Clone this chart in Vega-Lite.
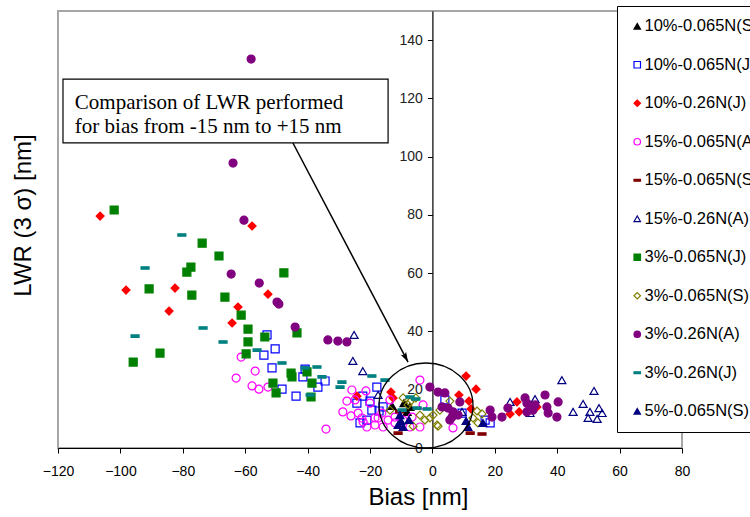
{
  "$schema": "https://vega.github.io/schema/vega-lite/v6.json",
  "width": 624,
  "height": 437,
  "autosize": {"type": "none"},
  "padding": {"left": 58, "top": 11, "right": 68, "bottom": 69},
  "background": "white",
  "config": {
    "view": {"stroke": "#a6a6a6", "strokeWidth": 2},
    "font": "Liberation Sans"
  },
  "layer": [
    {
      "data": {
        "values": [
          {"series": "10%-0.065N(S)", "bias": -12.9, "lwr": 14.4},
          {"series": "10%-0.065N(S)", "bias": -9.1, "lwr": 15.4},
          {"series": "10%-0.065N(S)", "bias": -8.1, "lwr": 12.4},
          {"series": "10%-0.065N(S)", "bias": -7.2, "lwr": 14.1},

          {"series": "10%-0.065N(J)", "bias": -53.0, "lwr": 38.8},
          {"series": "10%-0.065N(J)", "bias": -50.4, "lwr": 34.0},
          {"series": "10%-0.065N(J)", "bias": -54.0, "lwr": 31.9},
          {"series": "10%-0.065N(J)", "bias": -51.4, "lwr": 27.5},
          {"series": "10%-0.065N(J)", "bias": -48.2, "lwr": 20.2},
          {"series": "10%-0.065N(J)", "bias": -43.7, "lwr": 17.8},
          {"series": "10%-0.065N(J)", "bias": -40.8, "lwr": 27.1},
          {"series": "10%-0.065N(J)", "bias": -41.5, "lwr": 24.4},
          {"series": "10%-0.065N(J)", "bias": -36.7, "lwr": 20.9},
          {"series": "10%-0.065N(J)", "bias": -34.4, "lwr": 23.0},
          {"series": "10%-0.065N(J)", "bias": -17.8, "lwr": 20.9},
          {"series": "10%-0.065N(J)", "bias": -22.3, "lwr": 17.8},
          {"series": "10%-0.065N(J)", "bias": -20.0, "lwr": 16.1},
          {"series": "10%-0.065N(J)", "bias": -24.2, "lwr": 15.4},
          {"series": "10%-0.065N(J)", "bias": -19.4, "lwr": 13.0},
          {"series": "10%-0.065N(J)", "bias": -23.2, "lwr": 8.6},
          {"series": "10%-0.065N(J)", "bias": -17.1, "lwr": 12.7},
          {"series": "10%-0.065N(J)", "bias": -15.8, "lwr": 14.1},
          {"series": "10%-0.065N(J)", "bias": -21.0, "lwr": 9.6},
          {"series": "10%-0.065N(J)", "bias": 4.0, "lwr": 16.5},
          {"series": "10%-0.065N(J)", "bias": 9.5, "lwr": 12.0},
          {"series": "10%-0.065N(J)", "bias": 18.5, "lwr": 8.6},
          {"series": "10%-0.065N(J)", "bias": 16.9, "lwr": 9.6},

          {"series": "10%-0.26N(J)", "bias": -106.5, "lwr": 79.6},
          {"series": "10%-0.26N(J)", "bias": -98.2, "lwr": 54.2},
          {"series": "10%-0.26N(J)", "bias": -82.5, "lwr": 54.9},
          {"series": "10%-0.26N(J)", "bias": -84.4, "lwr": 47.0},
          {"series": "10%-0.26N(J)", "bias": -57.8, "lwr": 76.2},
          {"series": "10%-0.26N(J)", "bias": -52.7, "lwr": 52.8},
          {"series": "10%-0.26N(J)", "bias": -62.3, "lwr": 48.4},
          {"series": "10%-0.26N(J)", "bias": -64.2, "lwr": 42.9},
          {"series": "10%-0.26N(J)", "bias": -24.2, "lwr": 17.8},
          {"series": "10%-0.26N(J)", "bias": -13.3, "lwr": 19.2},
          {"series": "10%-0.26N(J)", "bias": -12.6, "lwr": 17.2},
          {"series": "10%-0.26N(J)", "bias": 10.8, "lwr": 24.7},
          {"series": "10%-0.26N(J)", "bias": 14.0, "lwr": 20.2},
          {"series": "10%-0.26N(J)", "bias": 8.5, "lwr": 18.2},
          {"series": "10%-0.26N(J)", "bias": 11.7, "lwr": 16.1},
          {"series": "10%-0.26N(J)", "bias": 12.4, "lwr": 13.4},
          {"series": "10%-0.26N(J)", "bias": 27.1, "lwr": 15.8},
          {"series": "10%-0.26N(J)", "bias": 27.8, "lwr": 12.4},
          {"series": "10%-0.26N(J)", "bias": 24.9, "lwr": 11.7},
          {"series": "10%-0.26N(J)", "bias": 33.5, "lwr": 14.1},

          {"series": "15%-0.065N(A)", "bias": -61.3, "lwr": 31.2},
          {"series": "15%-0.065N(A)", "bias": -56.8, "lwr": 26.4},
          {"series": "15%-0.065N(A)", "bias": -62.9, "lwr": 24.0},
          {"series": "15%-0.065N(A)", "bias": -57.8, "lwr": 21.3},
          {"series": "15%-0.065N(A)", "bias": -55.6, "lwr": 20.2},
          {"series": "15%-0.065N(A)", "bias": -52.7, "lwr": 20.9},
          {"series": "15%-0.065N(A)", "bias": -34.1, "lwr": 6.5},
          {"series": "15%-0.065N(A)", "bias": -25.8, "lwr": 19.9},
          {"series": "15%-0.065N(A)", "bias": -21.3, "lwr": 19.6},
          {"series": "15%-0.065N(A)", "bias": -27.4, "lwr": 16.1},
          {"series": "15%-0.065N(A)", "bias": -24.8, "lwr": 16.5},
          {"series": "15%-0.065N(A)", "bias": -20.0, "lwr": 15.4},
          {"series": "15%-0.065N(A)", "bias": -28.7, "lwr": 12.4},
          {"series": "15%-0.065N(A)", "bias": -26.1, "lwr": 11.0},
          {"series": "15%-0.065N(A)", "bias": -23.8, "lwr": 12.0},
          {"series": "15%-0.065N(A)", "bias": -22.2, "lwr": 8.9},
          {"series": "15%-0.065N(A)", "bias": -21.0, "lwr": 7.2},
          {"series": "15%-0.065N(A)", "bias": -18.4, "lwr": 7.9},
          {"series": "15%-0.065N(A)", "bias": -18.4, "lwr": 10.3},
          {"series": "15%-0.065N(A)", "bias": -15.8, "lwr": 7.2},
          {"series": "15%-0.065N(A)", "bias": -14.2, "lwr": 9.6},
          {"series": "15%-0.065N(A)", "bias": -13.6, "lwr": 16.5},
          {"series": "15%-0.065N(A)", "bias": -12.0, "lwr": 10.6},
          {"series": "15%-0.065N(A)", "bias": -12.0, "lwr": 8.6},
          {"series": "15%-0.065N(A)", "bias": -7.2, "lwr": 7.2},
          {"series": "15%-0.065N(A)", "bias": -6.5, "lwr": 10.6},
          {"series": "15%-0.065N(A)", "bias": -4.0, "lwr": 23.3},
          {"series": "15%-0.065N(A)", "bias": -3.0, "lwr": 14.8},
          {"series": "15%-0.065N(A)", "bias": 6.6, "lwr": 6.9},
          {"series": "15%-0.065N(A)", "bias": -22.6, "lwr": 10.3},
          {"series": "15%-0.065N(A)", "bias": -16.2, "lwr": 12.0},
          {"series": "15%-0.065N(A)", "bias": -17.4, "lwr": 10.3},
          {"series": "15%-0.065N(A)", "bias": -4.0, "lwr": 7.2},
          {"series": "15%-0.065N(A)", "bias": -9.4, "lwr": 9.6},

          {"series": "15%-0.065N(S)", "bias": -11.0, "lwr": 5.1},
          {"series": "15%-0.065N(S)", "bias": 12.1, "lwr": 5.1},
          {"series": "15%-0.065N(S)", "bias": 15.9, "lwr": 4.8},
          {"series": "15%-0.065N(S)", "bias": -10.5, "lwr": 12.5},

          {"series": "15%-0.26N(A)", "bias": -25.1, "lwr": 38.8},
          {"series": "15%-0.26N(A)", "bias": -25.5, "lwr": 29.9},
          {"series": "15%-0.26N(A)", "bias": -22.3, "lwr": 26.4},
          {"series": "15%-0.26N(A)", "bias": -17.4, "lwr": 18.2},
          {"series": "15%-0.26N(A)", "bias": 9.5, "lwr": 12.4},
          {"series": "15%-0.26N(A)", "bias": 24.9, "lwr": 15.8},
          {"series": "15%-0.26N(A)", "bias": 32.9, "lwr": 16.8},
          {"series": "15%-0.26N(A)", "bias": 31.3, "lwr": 12.0},
          {"series": "15%-0.26N(A)", "bias": 41.5, "lwr": 23.3},
          {"series": "15%-0.26N(A)", "bias": 45.1, "lwr": 12.4},
          {"series": "15%-0.26N(A)", "bias": 48.3, "lwr": 15.1},
          {"series": "15%-0.26N(A)", "bias": 51.8, "lwr": 19.6},
          {"series": "15%-0.26N(A)", "bias": 50.5, "lwr": 12.4},
          {"series": "15%-0.26N(A)", "bias": 53.4, "lwr": 13.7},
          {"series": "15%-0.26N(A)", "bias": 54.4, "lwr": 12.0},
          {"series": "15%-0.26N(A)", "bias": 49.9, "lwr": 10.3},
          {"series": "15%-0.26N(A)", "bias": 52.8, "lwr": 10.0},

          {"series": "3%-0.065N(J)", "bias": -102.0, "lwr": 81.7},
          {"series": "3%-0.065N(J)", "bias": -73.8, "lwr": 70.3},
          {"series": "3%-0.065N(J)", "bias": -68.4, "lwr": 65.9},
          {"series": "3%-0.065N(J)", "bias": -77.4, "lwr": 62.1},
          {"series": "3%-0.065N(J)", "bias": -78.7, "lwr": 60.4},
          {"series": "3%-0.065N(J)", "bias": -47.6, "lwr": 60.1},
          {"series": "3%-0.065N(J)", "bias": -90.8, "lwr": 54.6},
          {"series": "3%-0.065N(J)", "bias": -77.1, "lwr": 52.5},
          {"series": "3%-0.065N(J)", "bias": -66.5, "lwr": 51.8},
          {"series": "3%-0.065N(J)", "bias": -61.3, "lwr": 45.6},
          {"series": "3%-0.065N(J)", "bias": -59.1, "lwr": 40.8},
          {"series": "3%-0.065N(J)", "bias": -59.1, "lwr": 36.4},
          {"series": "3%-0.065N(J)", "bias": -53.7, "lwr": 38.1},
          {"series": "3%-0.065N(J)", "bias": -43.4, "lwr": 39.5},
          {"series": "3%-0.065N(J)", "bias": -59.7, "lwr": 32.3},
          {"series": "3%-0.065N(J)", "bias": -87.3, "lwr": 32.6},
          {"series": "3%-0.065N(J)", "bias": -95.9, "lwr": 29.5},
          {"series": "3%-0.065N(J)", "bias": -45.3, "lwr": 25.7},
          {"series": "3%-0.065N(J)", "bias": -45.0, "lwr": 24.4},
          {"series": "3%-0.065N(J)", "bias": -40.2, "lwr": 26.1},
          {"series": "3%-0.065N(J)", "bias": -38.6, "lwr": 22.3},
          {"series": "3%-0.065N(J)", "bias": -51.1, "lwr": 22.3},
          {"series": "3%-0.065N(J)", "bias": -50.1, "lwr": 18.9},
          {"series": "3%-0.065N(J)", "bias": -38.9, "lwr": 17.5},

          {"series": "3%-0.065N(S)", "bias": -9.4, "lwr": 17.2},
          {"series": "3%-0.065N(S)", "bias": -5.3, "lwr": 17.2},
          {"series": "3%-0.065N(S)", "bias": -7.2, "lwr": 15.8},
          {"series": "3%-0.065N(S)", "bias": -13.6, "lwr": 13.0},
          {"series": "3%-0.065N(S)", "bias": -7.8, "lwr": 14.8},
          {"series": "3%-0.065N(S)", "bias": -4.0, "lwr": 11.3},
          {"series": "3%-0.065N(S)", "bias": -6.2, "lwr": 7.5},
          {"series": "3%-0.065N(S)", "bias": -0.8, "lwr": 10.3},
          {"series": "3%-0.065N(S)", "bias": 2.4, "lwr": 13.0},
          {"series": "3%-0.065N(S)", "bias": 1.5, "lwr": 7.9},
          {"series": "3%-0.065N(S)", "bias": 5.6, "lwr": 16.1},
          {"series": "3%-0.065N(S)", "bias": 0.2, "lwr": 11.3},
          {"series": "3%-0.065N(S)", "bias": 1.8, "lwr": 7.5},
          {"series": "3%-0.065N(S)", "bias": 14.3, "lwr": 12.7},
          {"series": "3%-0.065N(S)", "bias": 15.9, "lwr": 11.7},
          {"series": "3%-0.065N(S)", "bias": 13.0, "lwr": 10.3},
          {"series": "3%-0.065N(S)", "bias": 14.6, "lwr": 8.6},
          {"series": "3%-0.065N(S)", "bias": -2.4, "lwr": 9.6},

          {"series": "3%-0.26N(A)", "bias": -58.1, "lwr": 133.5},
          {"series": "3%-0.26N(A)", "bias": -63.9, "lwr": 97.8},
          {"series": "3%-0.26N(A)", "bias": -60.4, "lwr": 78.2},
          {"series": "3%-0.26N(A)", "bias": -64.5, "lwr": 59.7},
          {"series": "3%-0.26N(A)", "bias": -55.5, "lwr": 56.6},
          {"series": "3%-0.26N(A)", "bias": -49.8, "lwr": 50.1},
          {"series": "3%-0.26N(A)", "bias": -49.2, "lwr": 49.4},
          {"series": "3%-0.26N(A)", "bias": -44.0, "lwr": 41.5},
          {"series": "3%-0.26N(A)", "bias": -33.5, "lwr": 37.1},
          {"series": "3%-0.26N(A)", "bias": -30.3, "lwr": 36.7},
          {"series": "3%-0.26N(A)", "bias": -27.4, "lwr": 36.4},
          {"series": "3%-0.26N(A)", "bias": -0.8, "lwr": 20.9},
          {"series": "3%-0.26N(A)", "bias": 1.8, "lwr": 19.2},
          {"series": "3%-0.26N(A)", "bias": 4.0, "lwr": 18.9},
          {"series": "3%-0.26N(A)", "bias": 3.1, "lwr": 14.1},
          {"series": "3%-0.26N(A)", "bias": 5.0, "lwr": 13.7},
          {"series": "3%-0.26N(A)", "bias": 6.6, "lwr": 12.4},
          {"series": "3%-0.26N(A)", "bias": 6.3, "lwr": 10.6},
          {"series": "3%-0.26N(A)", "bias": 5.6, "lwr": 9.6},
          {"series": "3%-0.26N(A)", "bias": 8.8, "lwr": 15.8},
          {"series": "3%-0.26N(A)", "bias": 8.2, "lwr": 11.3},
          {"series": "3%-0.26N(A)", "bias": 18.5, "lwr": 13.0},
          {"series": "3%-0.26N(A)", "bias": 19.1, "lwr": 10.6},
          {"series": "3%-0.26N(A)", "bias": 22.3, "lwr": 10.6},
          {"series": "3%-0.26N(A)", "bias": 24.2, "lwr": 13.7},
          {"series": "3%-0.26N(A)", "bias": 29.7, "lwr": 17.2},
          {"series": "3%-0.26N(A)", "bias": 30.3, "lwr": 15.4},
          {"series": "3%-0.26N(A)", "bias": 31.3, "lwr": 14.1},
          {"series": "3%-0.26N(A)", "bias": 32.9, "lwr": 14.8},
          {"series": "3%-0.26N(A)", "bias": 30.3, "lwr": 12.4},
          {"series": "3%-0.26N(A)", "bias": 32.2, "lwr": 13.0},
          {"series": "3%-0.26N(A)", "bias": 36.1, "lwr": 18.2},
          {"series": "3%-0.26N(A)", "bias": 36.7, "lwr": 14.1},
          {"series": "3%-0.26N(A)", "bias": 37.1, "lwr": 12.0},
          {"series": "3%-0.26N(A)", "bias": 39.9, "lwr": 10.6},
          {"series": "3%-0.26N(A)", "bias": 40.3, "lwr": 15.8},

          {"series": "3%-0.26N(J)", "bias": -80.3, "lwr": 73.1},
          {"series": "3%-0.26N(J)", "bias": -92.1, "lwr": 61.8},
          {"series": "3%-0.26N(J)", "bias": -73.5, "lwr": 41.2},
          {"series": "3%-0.26N(J)", "bias": -95.3, "lwr": 38.4},
          {"series": "3%-0.26N(J)", "bias": -67.1, "lwr": 36.4},
          {"series": "3%-0.26N(J)", "bias": -56.2, "lwr": 33.6},
          {"series": "3%-0.26N(J)", "bias": -48.2, "lwr": 29.2},
          {"series": "3%-0.26N(J)", "bias": -40.8, "lwr": 27.5},
          {"series": "3%-0.26N(J)", "bias": -37.0, "lwr": 27.8},
          {"series": "3%-0.26N(J)", "bias": -35.4, "lwr": 24.4},
          {"series": "3%-0.26N(J)", "bias": -39.2, "lwr": 18.2},
          {"series": "3%-0.26N(J)", "bias": -29.0, "lwr": 22.6},
          {"series": "3%-0.26N(J)", "bias": -29.6, "lwr": 20.9},
          {"series": "3%-0.26N(J)", "bias": -19.4, "lwr": 24.7},
          {"series": "3%-0.26N(J)", "bias": -15.2, "lwr": 23.3},
          {"series": "3%-0.26N(J)", "bias": -7.2, "lwr": 17.5},
          {"series": "3%-0.26N(J)", "bias": -5.3, "lwr": 16.8},
          {"series": "3%-0.26N(J)", "bias": -4.9, "lwr": 13.7},
          {"series": "3%-0.26N(J)", "bias": -1.7, "lwr": 13.4},
          {"series": "3%-0.26N(J)", "bias": -9.7, "lwr": 13.0},

          {"series": "5%-0.065N(S)", "bias": -10.4, "lwr": 11.3},
          {"series": "5%-0.065N(S)", "bias": -10.1, "lwr": 9.3},
          {"series": "5%-0.065N(S)", "bias": -11.0, "lwr": 7.9},
          {"series": "5%-0.065N(S)", "bias": -9.4, "lwr": 7.2},
          {"series": "5%-0.065N(S)", "bias": -7.5, "lwr": 9.6},
          {"series": "5%-0.065N(S)", "bias": 11.4, "lwr": 7.2},
          {"series": "5%-0.065N(S)", "bias": 16.2, "lwr": 8.6},
          {"series": "5%-0.065N(S)", "bias": 10.8, "lwr": 9.3}
        ]
      },
      "mark": {"type": "point", "size": 64, "strokeWidth": 1.2, "opacity": 1},
      "encoding": {
        "x": {
          "field": "bias", "type": "quantitative",
          "scale": {"domain": [-120, 80], "nice": false, "zero": false},
          "axis": {
            "title": "Bias [nm]",
            "values": [-120, -100, -80, -60, -40, -20, 0, 20, 40, 60, 80],
            "grid": false, "zindex": 1,
            "domainColor": "black", "domainWidth": 1.2,
            "tickColor": "black", "tickSize": 5, "tickWidth": 1,
            "labelFont": "Liberation Sans", "labelFontSize": 14, "labelColor": "black",
            "labelPadding": 11, "labelFlush": false,
            "titleFont": "Liberation Sans", "titleFontSize": 24, "titleFontWeight": "normal", "titleColor": "black",
            "titleX": 360, "titleY": 49, "titleAlign": "center", "titleBaseline": "middle"
          }
        },
        "y": {
          "field": "lwr", "type": "quantitative",
          "scale": {"domain": [0, 150], "nice": false, "zero": true},
          "axis": {
            "title": "LWR (3 σ) [nm]",
            "values": [0, 20, 40, 60, 80, 100, 120, 140],
            "offset": -374.4,
            "grid": false,
            "domainColor": "black", "domainWidth": 1.2,
            "tickColor": "black", "tickSize": 5, "tickWidth": 1,
            "labelFont": "Liberation Sans", "labelFontSize": 14, "labelColor": "#222222",
            "labelPadding": 5, "labelFlush": false,
            "titleFont": "Liberation Sans", "titleFontSize": 24, "titleFontWeight": "normal", "titleColor": "black",
            "titleX": -409, "titleY": 204, "titleAngle": -90, "titleAlign": "center", "titleBaseline": "middle"
          }
        },
        "shape": {
          "field": "series", "type": "nominal",
          "scale": {
            "domain": ["10%-0.065N(S)", "10%-0.065N(J)", "10%-0.26N(J)", "15%-0.065N(A)", "15%-0.065N(S)", "15%-0.26N(A)", "3%-0.065N(J)", "3%-0.065N(S)", "3%-0.26N(A)", "3%-0.26N(J)", "5%-0.065N(S)"],
            "range": ["triangle-up", "square", "diamond", "circle", "M-1,-0.3H1V0.3H-1Z", "triangle-up", "square", "diamond", "circle", "M-1,-0.3H1V0.3H-1Z", "triangle-up"]
          },
          "legend": {"title": null, "orient": "none", "legendX": 559, "legendY": -5, "strokeColor": "black", "fillColor": "white", "padding": 12, "labelFont": "Liberation Sans", "labelFontSize": 16.5, "labelColor": "black", "symbolSize": 42, "symbolStrokeWidth": 1.2, "rowPadding": 21.5, "labelOffset": -1, "labelLimit": 300}
        },
        "fill": {
          "field": "series", "type": "nominal",
          "scale": {
            "domain": ["10%-0.065N(S)", "10%-0.065N(J)", "10%-0.26N(J)", "15%-0.065N(A)", "15%-0.065N(S)", "15%-0.26N(A)", "3%-0.065N(J)", "3%-0.065N(S)", "3%-0.26N(A)", "3%-0.26N(J)", "5%-0.065N(S)"],
            "range": ["#000000", "transparent", "#ff0000", "transparent", "#800000", "transparent", "#008000", "transparent", "#800080", "#008080", "#000080"]
          },
          "legend": {"title": null, "orient": "none", "legendX": 559, "legendY": -5, "strokeColor": "black", "fillColor": "white", "padding": 12, "labelFont": "Liberation Sans", "labelFontSize": 16.5, "labelColor": "black", "symbolSize": 42, "symbolStrokeWidth": 1.2, "rowPadding": 21.5, "labelOffset": -1, "labelLimit": 300}
        },
        "stroke": {
          "field": "series", "type": "nominal",
          "scale": {
            "domain": ["10%-0.065N(S)", "10%-0.065N(J)", "10%-0.26N(J)", "15%-0.065N(A)", "15%-0.065N(S)", "15%-0.26N(A)", "3%-0.065N(J)", "3%-0.065N(S)", "3%-0.26N(A)", "3%-0.26N(J)", "5%-0.065N(S)"],
            "range": ["#000000", "#0000ff", "#ff0000", "#ff00ff", "#800000", "#000080", "#008000", "#808000", "#800080", "#008080", "#000080"]
          },
          "legend": {"title": null, "orient": "none", "legendX": 559, "legendY": -5, "strokeColor": "black", "fillColor": "white", "padding": 12, "labelFont": "Liberation Sans", "labelFontSize": 16.5, "labelColor": "black", "symbolSize": 42, "symbolStrokeWidth": 1.2, "rowPadding": 21.5, "labelOffset": -1, "labelLimit": 300}
        }
      }
    },
    {
      "data": {"values": [{"bias": -118.4, "bias2": -14.2, "lwr": 126.6, "lwr2": 104.7}]},
      "mark": {"type": "rect", "fill": "white", "stroke": "black", "strokeWidth": 1.2},
      "encoding": {
        "x": {"field": "bias", "type": "quantitative"},
        "x2": {"field": "bias2"},
        "y": {"field": "lwr", "type": "quantitative"},
        "y2": {"field": "lwr2"}
      }
    },
    {
      "data": {"values": [
        {"bias": -114.6, "lwr": 116.3, "label": "Comparison of LWR performed"},
        {"bias": -114.6, "lwr": 108.1, "label": "for bias from -15 nm to +15 nm"}
      ]},
      "mark": {"type": "text", "align": "left", "baseline": "alphabetic", "font": "Liberation Serif", "fontSize": 21, "color": "black"},
      "encoding": {
        "x": {"field": "bias", "type": "quantitative"},
        "y": {"field": "lwr", "type": "quantitative"},
        "text": {"field": "label"}
      }
    },
    {
      "data": {"values": [{"bias": -44.7, "lwr": 104.7, "bias2": -7.8, "lwr2": 29.5}]},
      "mark": {"type": "rule", "color": "black", "strokeWidth": 1.5},
      "encoding": {
        "x": {"field": "bias", "type": "quantitative"},
        "y": {"field": "lwr", "type": "quantitative"},
        "x2": {"field": "bias2"},
        "y2": {"field": "lwr2"}
      }
    },
    {
      "data": {"values": [{"bias": -7.8, "lwr": 29.5}]},
      "mark": {"type": "point", "shape": "M0,0L-0.4,1.3L0,1.0L0.4,1.3Z", "angle": 152, "size": 237, "filled": true, "color": "black", "opacity": 1},
      "encoding": {
        "x": {"field": "bias", "type": "quantitative"},
        "y": {"field": "lwr", "type": "quantitative"}
      }
    },
    {
      "data": {"values": [{"bias": -2.05, "lwr": 14.6}]},
      "mark": {"type": "point", "shape": "M-1,0A1,0.904,0,1,1,1,0A1,0.904,0,1,1,-1,0Z", "size": 8836, "filled": false, "stroke": "black", "strokeWidth": 1.3, "opacity": 1},
      "encoding": {
        "x": {"field": "bias", "type": "quantitative"},
        "y": {"field": "lwr", "type": "quantitative"}
      }
    }
  ]
}
